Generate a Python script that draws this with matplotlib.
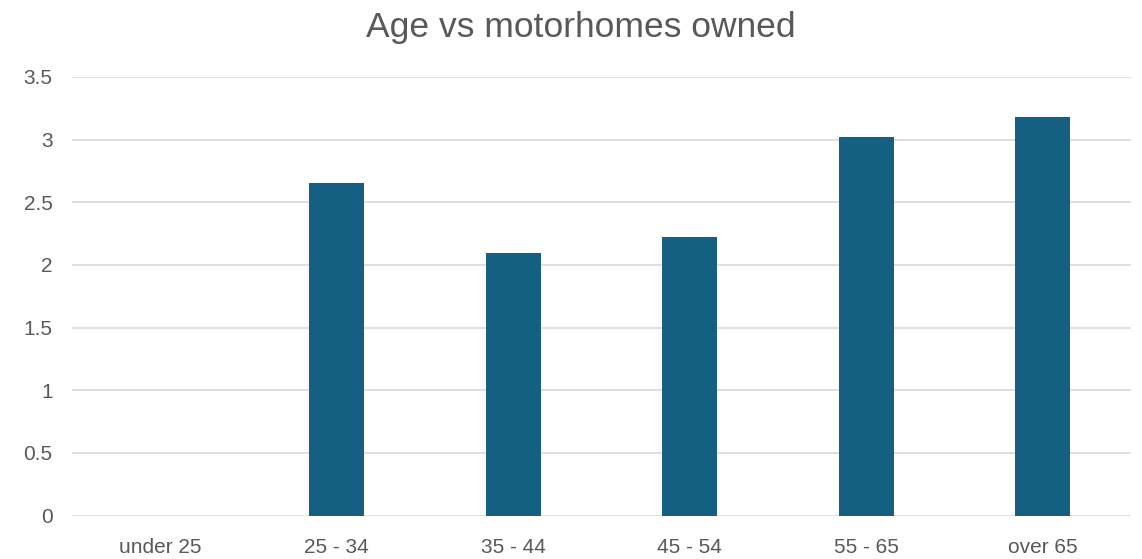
import matplotlib.pyplot as plt

# age bands and average motorhomes owned
ages = ["under 25", "25 - 34", "35 - 44", "45 - 54", "55 - 65", "over 65"]
owned = [0, 2.656, 2.095, 2.223, 3.02, 3.18]
yticks = [0, 0.5, 1, 1.5, 2, 2.5, 3, 3.5]

plt.rcParams['font.family'] = ['Liberation Sans', 'DejaVu Sans']

fig = plt.figure(figsize=(11.42, 5.59), dpi=100)
ax = fig.add_axes([72 / 1142, 1 - 515.5 / 559, (1131 - 72) / 1142, (515.5 - 77) / 559])

x = range(len(ages))
ax.bar(x, owned, width=0.31, color="#156082", zorder=3)

ax.set_xlim(-0.5, len(ages) - 0.5)
ax.set_ylim(0, 3.5)
ax.set_yticks(yticks)
ax.set_yticklabels([f"{v:g}" for v in yticks])
ax.set_xticks(list(x))
ax.set_xticklabels(ages)
ax.grid(axis="y", color="#D9D9D9", linewidth=1.2, zorder=0)
ax.tick_params(length=0, labelsize=15, colors="#595959")
ax.tick_params(axis="x", pad=16)
ax.tick_params(axis="y", pad=14)
for s in ax.spines.values():
    s.set_visible(False)

fig.text(581 / 1142, 1 - 37 / 559, "Age vs motorhomes owned", ha="center", va="baseline",
         fontsize=25.5, color="#595959")

fig.savefig("out.png", dpi=100)
